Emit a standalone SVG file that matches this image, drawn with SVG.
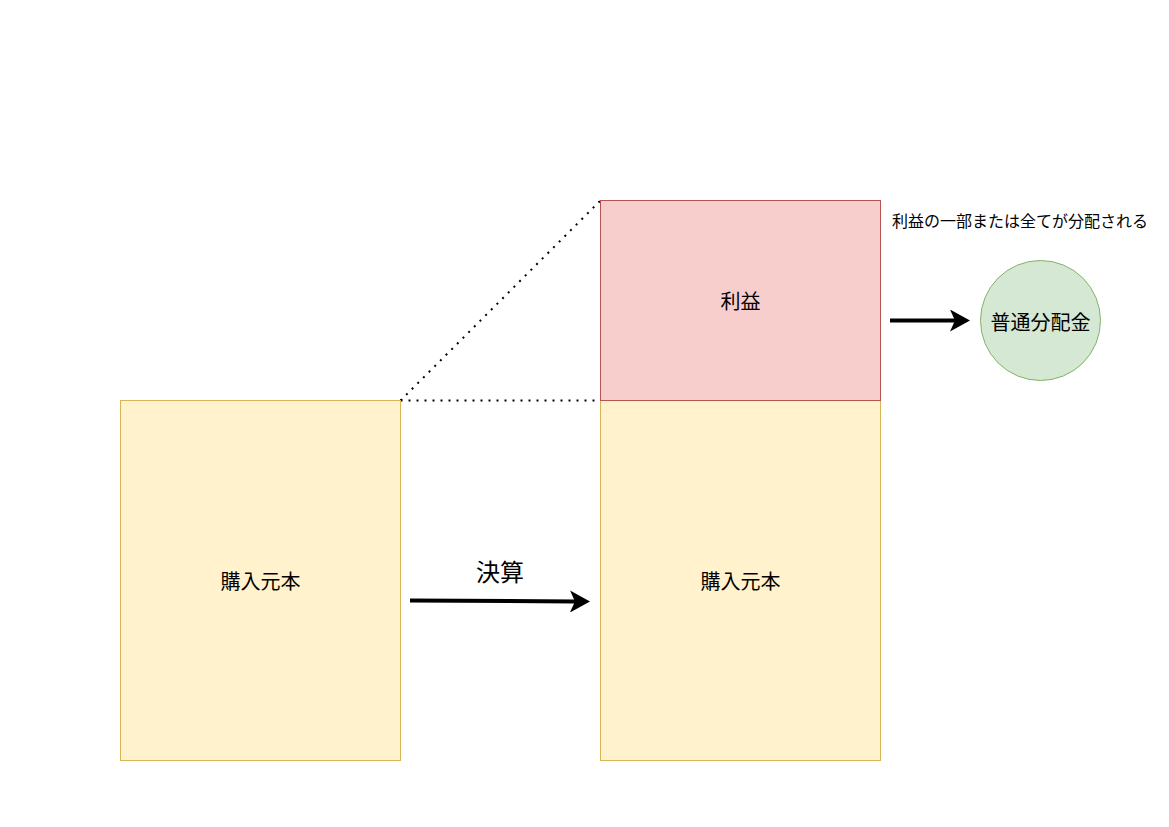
<svg xmlns="http://www.w3.org/2000/svg" width="1169" height="827" viewBox="0 0 1169 827">
<style>
.y{fill:#fff2cc;stroke:#d6b656;stroke-width:1}
.r{fill:#f8cecc;stroke:#b85450;stroke-width:1}
.g{fill:#d5e8d4;stroke:#82b366;stroke-width:1}
.t{font-family:"Noto Sans CJK JP","Noto Sans",sans-serif;fill:#000;text-anchor:middle;dominant-baseline:central}
.arr{stroke:#000;stroke-width:4;fill:none}
.dot{stroke:#000;stroke-width:2;stroke-dasharray:2 6;fill:none}
</style>
<defs>
<marker id="ah" markerUnits="userSpaceOnUse" markerWidth="20" markerHeight="22" viewBox="0 0 20 22" refX="5" refY="11" orient="auto">
<path d="M0,0 L20,11 L0,22 L5,11 Z" fill="#000"/>
</marker>
</defs>
<rect width="1169" height="827" fill="#fff"/>
<g id="connectors">
<path class="dot" d="M400.5,400.5 L600.5,200.5"/>
<path class="dot" d="M400.5,400.5 L600.5,400.5"/>
<path class="arr" d="M410,600.5 L575,601.5" marker-end="url(#ah)"/>
<path class="arr" d="M890,320.5 L955,320.5" marker-end="url(#ah)"/>
</g>
<g id="n1"><rect class="y" x="120.5" y="400.5" width="280" height="360"/><text class="t" x="260.5" y="580" font-size="20">購入元本</text></g>
<g id="n2"><rect class="y" x="600.5" y="400.5" width="280" height="360"/><text class="t" x="740.5" y="580" font-size="20">購入元本</text></g>
<g id="n3"><rect class="r" x="600.5" y="200.5" width="280" height="200"/><text class="t" x="740.5" y="300" font-size="20">利益</text></g>
<g id="n4"><circle class="g" cx="1040.5" cy="320.5" r="60"/><text class="t" x="1040.5" y="321" font-size="20">普通分配金</text></g>
<g id="l1"><text class="t" x="500" y="570" font-size="24">決算</text></g>
<g id="l2"><text class="t" x="1020" y="220" font-size="16">利益の一部または全てが分配される</text></g>
</svg>
